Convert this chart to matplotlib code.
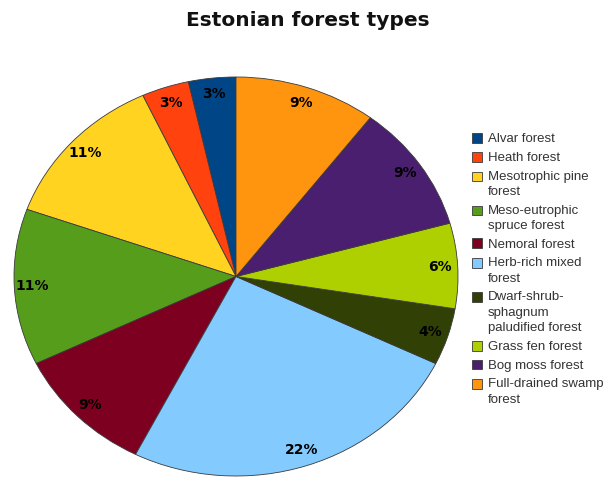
import matplotlib
matplotlib.use('Agg')
import matplotlib.pyplot as plt

# values as printed on the slices (pie normalises them)
types = ['Alvar forest', 'Heath forest', 'Mesotrophic pine\nforest',
         'Meso-eutrophic\nspruce forest', 'Nemoral forest',
         'Herb-rich mixed\nforest', 'Dwarf-shrub-\nsphagnum\npaludified forest',
         'Grass fen forest', 'Bog moss forest', 'Full-drained swamp\nforest']
shares = [3, 3, 11, 11, 9, 22, 4, 6, 9, 9]
colors = ['#004586', '#ff420e', '#ffd320', '#579d1c', '#7e0021',
          '#83caff', '#314004', '#aecf00', '#4b1f6f', '#ff950e']

total = sum(shares)

fig = plt.figure(figsize=(6.15, 4.79), dpi=100)
fig.patch.set_facecolor('white')

# pie is drawn as a slightly wide ellipse, like the original
ax = fig.add_axes([14 / 615, 3 / 479, 444 / 615, 399 / 479])
wedges, texts, autotexts = ax.pie(
    shares, colors=colors, startangle=90, counterclock=True,
    autopct=lambda p: f'{p * total / 100:.0f}%', pctdistance=0.92,
    wedgeprops=dict(edgecolor='#3a3a3a', linewidth=0.6),
    textprops=dict(fontsize=10, fontweight='bold', color='black',
                   family='DejaVu Sans'))
for w in wedges:
    w.set_clip_on(False)
ax.set_aspect('auto')
ax.set_xlim(-1, 1)
ax.set_ylim(-1, 1)

fig.text(308 / 615, 1 - 21 / 479, 'Estonian forest types', ha='center',
         va='center', fontsize=14.5, fontweight='bold', family='DejaVu Sans',
         color='#111111')

fs = 9.5
leg = fig.legend(wedges, types, loc='upper left',
                 bbox_to_anchor=(472 / 615, 1 - 133 / 479),
                 frameon=False, borderpad=0, borderaxespad=0,
                 handlelength=0.76, handleheight=0.76, handletextpad=0.45,
                 labelspacing=0.48,
                 prop=dict(family='Liberation Sans', size=fs))
lsp = 1.4
for t in leg.texts:
    t.set_color('#333333')
    t.set_linespacing(lsp)

# put the square next to the first line of wrapped labels
renderer = fig.canvas.get_renderer()
_, lp_h, lp_d = renderer.get_text_width_height_descent(
    'lp', leg.texts[0].get_fontproperties(), ismath=False)
step = lp_d + (lp_h - lp_d) * lsp
for patch, lab in zip(leg.legend_handles, types):
    n = lab.count('\n') + 1
    patch.set_y(patch.get_y() + (n - 1) / 2 * step * 72 / fig.dpi)

fig.savefig('out.png', dpi=100)
